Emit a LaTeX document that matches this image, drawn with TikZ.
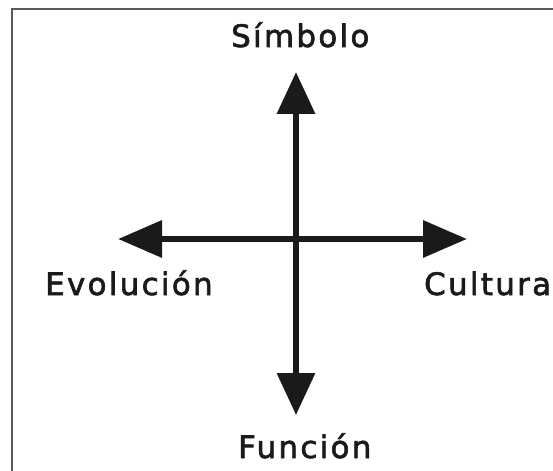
\documentclass[tikz,border=0pt]{standalone}
\usepackage{fontspec}
\setmainfont{DejaVu Sans}[LetterSpace=7.5,FakeBold=2]
\usetikzlibrary{arrows.meta}
\definecolor{ink}{HTML}{1A1A1A}
\begin{document}
\begin{tikzpicture}[x=1bp,y=-1bp,
  lbl/.style={inner sep=0pt,font=\fontsize{31}{36}\selectfont,text=ink},
  vaxis/.style={line width=6.5bp,ink,{Triangle[length=42bp,width=37bp]}-{Triangle[length=42bp,width=37bp]}},
  haxis/.style={line width=6.5bp,ink,{Triangle[length=44bp,width=36bp]}-{Triangle[length=44bp,width=36bp]}}]
\useasboundingbox (0,0) rectangle (553,471);
\clip (0,0) rectangle (553,471);
\coordinate (fb) at (12,520);
\coordinate (ftl) at (12,9);
\coordinate (fr) at (620,9);
\draw[line width=2bp,black!65] (fb) -- (ftl) -- (fr);
\coordinate (top) at (296,72);
\coordinate (bot) at (296,415);
\coordinate (lft) at (118,239);
\coordinate (rgt) at (467,239);
\draw[vaxis] (bot) -- (top);
\draw[haxis] (lft) -- (rgt);
\node[lbl,anchor=base west] (sim) at (231,47) {Símbolo};
\node[lbl,anchor=base west] (evo) at (45,295) {Evolución};
\node[lbl,anchor=base west] (cul) at (424,295) {Cultura};
\node[lbl,anchor=base west] (fun) at (238,458) {Función};
\end{tikzpicture}
\end{document}
